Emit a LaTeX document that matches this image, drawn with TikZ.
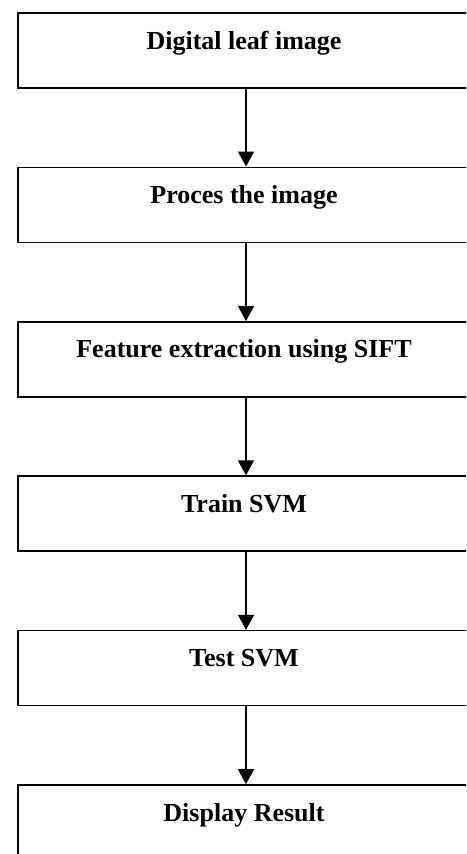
\documentclass[tikz,border=0pt]{standalone}
\usepackage{fontspec}
\setmainfont{Liberation Serif}
\usetikzlibrary{positioning,arrows.meta}

\begin{document}
\begin{tikzpicture}[x=1pt, y=1pt, every node/.style={font=\bfseries\fontsize{26}{30}\selectfont},
  stage/.style={draw, line width=1.6pt, minimum width=452pt, minimum height=75pt,
    text height=18pt, text depth=21pt, inner sep=0pt}]
  \useasboundingbox (0,0) rectangle (466,-854);
  \clip (0,0) rectangle (466,-854);
  \node[stage] (leaf) at (244,-50.5) {Digital leaf image};
  \node[stage, below=77.8pt of leaf] (proc) {Proces the image};
  \node[stage, below=77.8pt of proc] (sift) {Feature extraction using SIFT};
  \node[stage, below=77.8pt of sift] (train) {Train SVM};
  \node[stage, below=77.8pt of train] (test) {Test SVM};
  \node[stage, below=77.8pt of test] (result) {Display Result};
  % arrows between stages
  \foreach \a/\b in {leaf/proc, proc/sift, sift/train, train/test, test/result}
    \draw[-{Triangle[width=16pt,length=15pt]}, line width=1.4pt] ([xshift=2pt]\a.south) -- ([xshift=2pt]\b.north);
\end{tikzpicture}
\end{document}
